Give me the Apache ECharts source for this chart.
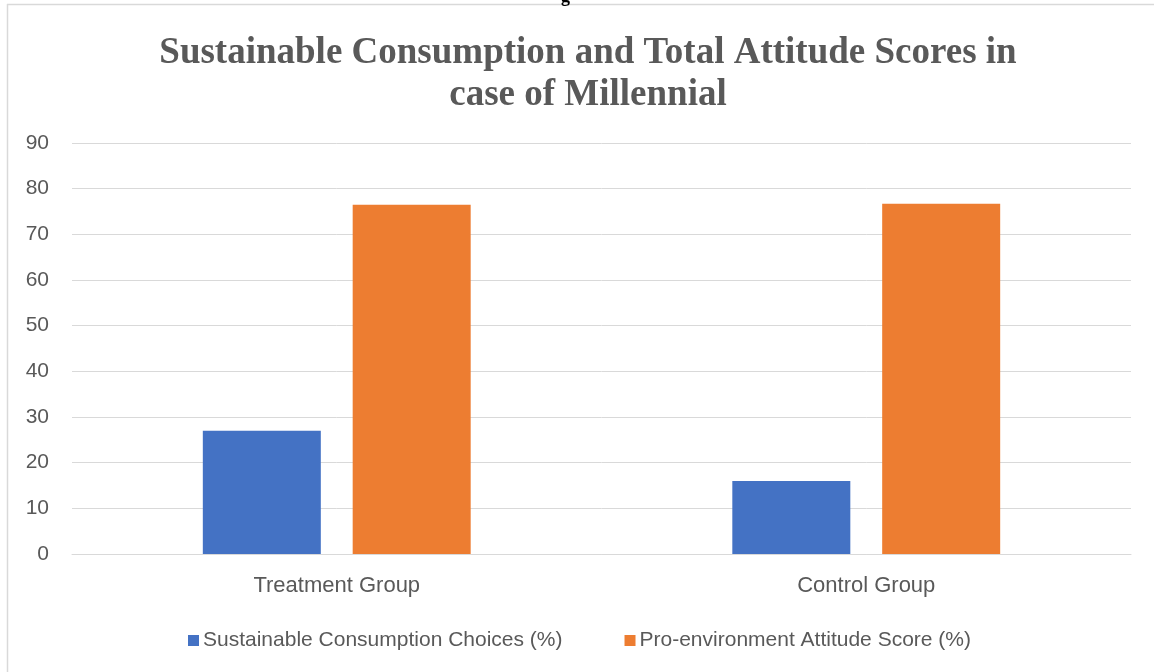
<!DOCTYPE html>
<html>
<head>
<meta charset="utf-8">
<title>Sustainable Consumption and Total Attitude Scores</title>
<script src="https://cdn.jsdelivr.net/npm/echarts@6/dist/echarts.min.js"></script>
<style>
    html, body { margin: 0; padding: 0; background: #fff; }
    #main { width: 1154px; height: 672px; }
</style>
</head>
<body>
<div id="main"></div>
<script>
// data
var categories = ['Treatment Group', 'Control Group'];
var seriesNames = ['Sustainable Consumption Choices (%)', 'Pro-environment Attitude Score (%)'];
var consumptionChoices = [27, 16];
var attitudeScore = [76.5, 76.7];
var seriesColors = ['#4472C4', '#ED7D31'];

var chart = echarts.init(document.getElementById('main'));
var labelFont = '"Liberation Sans", Arial, sans-serif';

var option = {
    backgroundColor: '#fff',
    animation: false,
    title: {
        text: 'Sustainable Consumption and Total Attitude Scores in\ncase of Millennial',
        left: 583,
        top: 27,
        textAlign: 'center',
        textStyle: {
            fontFamily: '"Liberation Serif", "Times New Roman", serif',
            fontWeight: 'bold',
            fontSize: 37,
            lineHeight: 42,
            color: '#595959'
        }
    },
    legend: {
        left: 183,
        top: 625,
        itemWidth: 11,
        itemHeight: 11,
        itemGap: 62,
        icon: 'rect',
        textStyle: {
            fontFamily: labelFont,
            fontSize: 21,
            color: '#595959',
            padding: [0, 0, 0, -1]
        },
        data: seriesNames
    },
    grid: {
        left: 72,
        right: 23,
        top: 143,
        bottom: 118
    },
    xAxis: {
        type: 'category',
        data: categories,
        axisTick: { show: false },
        axisLine: { lineStyle: { color: '#d9d9d9', width: 1 } },
        axisLabel: {
            margin: 21,
            fontFamily: labelFont,
            fontSize: 22,
            color: '#595959'
        }
    },
    yAxis: {
        type: 'value',
        min: 0,
        max: 90,
        interval: 10,
        axisLine: { show: false },
        axisTick: { show: false },
        splitLine: { lineStyle: { color: '#d9d9d9', width: 1 } },
        axisLabel: {
            margin: 23,
            fontFamily: labelFont,
            fontSize: 21,
            color: '#595959'
        }
    },
    series: [
        {
            name: seriesNames[0],
            type: 'bar',
            data: consumptionChoices,
            barWidth: 118,
            barGap: '27%',
            itemStyle: { color: seriesColors[0] }
        },
        {
            name: seriesNames[1],
            type: 'bar',
            data: attitudeScore,
            barWidth: 118,
            barGap: '27%',
            itemStyle: { color: seriesColors[1] }
        }
    ],
    graphic: [
        // frame of the chart area, cut at right and bottom
        {
            type: 'line',
            shape: { x1: 7, y1: 4.5, x2: 1154, y2: 4.5 },
            style: { stroke: '#d9d9d9', lineWidth: 1.5 }
        },
        {
            type: 'line',
            shape: { x1: 7.5, y1: 4, x2: 7.5, y2: 672 },
            style: { stroke: '#d9d9d9', lineWidth: 1.5 }
        },
        // tail of the caption above, cut off
        {
            type: 'text',
            left: 561,
            top: -12,
            style: {
                text: 'g',
                fontFamily: '"Liberation Serif", serif',
                fontWeight: 'bold',
                fontSize: 18,
                fill: '#000'
            }
        }
    ]
};

chart.setOption(option);
window.onresize = function(){
    chart.resize();
};
</script>
</body>
</html>
